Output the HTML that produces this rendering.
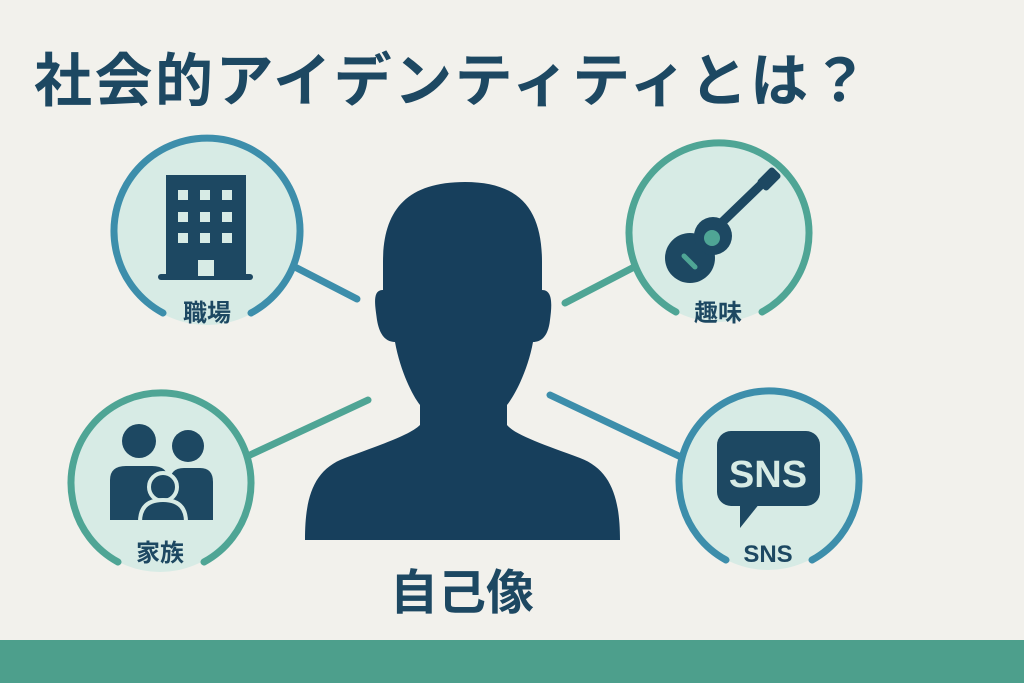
<!DOCTYPE html>
<html><head><meta charset="utf-8"><style>
html,body{margin:0;padding:0;background:#f2f1ec;}
svg{display:block}
</style></head><body>
<svg width="1024" height="683" viewBox="0 0 1024 683" xmlns="http://www.w3.org/2000/svg">
<rect width="1024" height="683" fill="#f2f1ec"/>
<text x="34" y="101" font-family="'Liberation Sans','Noto Sans CJK JP',sans-serif" font-weight="bold" font-size="58" letter-spacing="2.5" fill="#1d4862">社会的アイデンティティとは？</text>

<!-- connectors -->
<g stroke-width="7" stroke-linecap="round" fill="none">
<line x1="293" y1="266" x2="357" y2="299" stroke="#3d8eab"/>
<line x1="250" y1="455" x2="368" y2="400" stroke="#4fa595"/>
<line x1="565" y1="303" x2="638" y2="265" stroke="#4fa595"/>
<line x1="550" y1="395" x2="683" y2="458" stroke="#3d8eab"/>
</g>

<!-- circles -->
<g stroke-width="7" stroke-linecap="round">
<circle cx="207" cy="232" r="93" fill="#d7ebe5" stroke="none"/>
<path d="M163 313 A93 93 0 1 1 251 313" fill="none" stroke="#3d8eab"/>
<circle cx="160" cy="482" r="90" fill="#d7ebe5" stroke="none"/>
<path d="M118 562 A90 90 0 1 1 204 562" fill="none" stroke="#4fa595"/>
<circle cx="718" cy="232" r="90" fill="#d7ebe5" stroke="none"/>
<path d="M676 312 A90 90 0 1 1 762 312" fill="none" stroke="#4fa595"/>
<circle cx="768" cy="480" r="90" fill="#d7ebe5" stroke="none"/>
<path d="M726 560 A90 90 0 1 1 812 560" fill="none" stroke="#3d8eab"/>
</g>

<!-- building -->
<g fill="#1d4862">
<rect x="166" y="175" width="80" height="105"/>
<rect x="158" y="274" width="95" height="6" rx="3"/>
</g>
<g fill="#d7ebe5">
<rect x="178" y="190" width="10" height="10"/><rect x="200" y="190" width="10" height="10"/><rect x="222" y="190" width="10" height="10"/>
<rect x="178" y="212" width="10" height="10"/><rect x="200" y="212" width="10" height="10"/><rect x="222" y="212" width="10" height="10"/>
<rect x="178" y="233" width="10" height="10"/><rect x="200" y="233" width="10" height="10"/><rect x="222" y="233" width="10" height="10"/>
<rect x="198" y="260" width="16" height="16"/>
</g>

<!-- family -->
<g fill="#1d4862">
<circle cx="139" cy="441" r="17"/>
<circle cx="188" cy="446" r="16"/>
<path d="M110 520 L110 480 Q110 466 126 466 L152 466 Q168 466 168 480 L168 520 Z"/>
<path d="M170 520 L170 482 Q170 468 184 468 L200 468 Q213 468 213 482 L213 520 Z"/>
<circle cx="163" cy="487" r="14" stroke="#d7ebe5" stroke-width="4"/>
<path d="M140 522 Q140 500 163 500 Q186 500 186 522 Z" stroke="#d7ebe5" stroke-width="4"/>
</g>

<!-- guitar -->
<g fill="#1d4862">
<line x1="712" y1="232" x2="770" y2="176" stroke="#1d4862" stroke-width="9"/>
<rect x="762" y="168" width="14" height="22" rx="3" transform="rotate(45 769 179)"/>
<circle cx="690" cy="258" r="25"/>
<circle cx="713" cy="236" r="19"/>
<circle cx="712" cy="238" r="8" fill="#4fa595"/>
<line x1="684" y1="256" x2="695" y2="267" stroke="#4fa595" stroke-width="5" stroke-linecap="round"/>
</g>

<!-- SNS bubble -->
<rect x="717" y="431" width="103" height="75" rx="14" fill="#1d4862"/>
<path d="M740 503 L740 528 L760 503 Z" fill="#1d4862"/>
<text x="768" y="487" text-anchor="middle" font-family="'Liberation Sans',sans-serif" font-weight="bold" font-size="38" fill="#d7ebe5">SNS</text>

<!-- labels -->
<g font-family="'Liberation Sans','Noto Sans CJK JP',sans-serif" font-weight="bold" fill="#1d4862" text-anchor="middle">
<text x="207" y="321" font-size="24">職場</text>
<text x="160" y="561" font-size="24">家族</text>
<text x="718" y="321" font-size="24">趣味</text>
<text x="768" y="562" font-size="24">SNS</text>
<text x="462" y="609" font-size="48">自己像</text>
</g>

<!-- person -->
<path fill="#173f5c" d="M465 182 C405 182 383 212 383 262 L383 290 C372 290 375 305 377 320 C380 338 388 342 395 342 C400 370 412 395 420 405 L420 425 C410 435 380 445 345 458 C312 470 305 500 305 540 L620 540 C620 500 612 470 580 458 C545 445 515 435 507 425 L507 405 C515 395 528 370 533 342 C540 342 548 338 550 320 C552 305 553 290 542 290 L542 262 C542 212 522 182 465 182 Z"/>

<rect x="0" y="640" width="1024" height="43" fill="#4d9f8c"/>
</svg>
</body></html>
